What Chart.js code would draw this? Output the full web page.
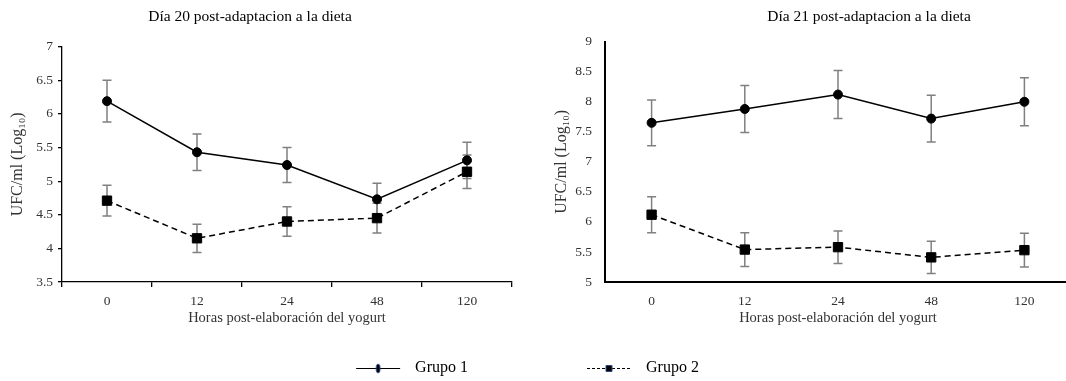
<!DOCTYPE html>
<html>
<head>
<meta charset="utf-8">
<script src="https://cdn.jsdelivr.net/npm/chart.js@4.4.1/dist/chart.umd.min.js"></script>
<style>
  html, body { margin: 0; padding: 0; background: #fff; width: 1066px; height: 381px; overflow: hidden; position: relative; }
  canvas { position: absolute; }
</style>
</head>
<body>
<canvas id="dia20" width="552" height="345" style="left:-12px;top:0"></canvas>
<canvas id="dia21" width="658" height="345" style="left:540px;top:0"></canvas>
<canvas id="leyenda" width="944" height="70" style="left:0;top:340px"></canvas>
<script>
// categories
const horas = ['0', '12', '24', '48', '120'];

// Día 20 (mean and +/- error)
const dia20Grupo1 = [6.19, 5.43, 5.24, 4.73, 5.31];
const dia20Grupo1Err = [0.31, 0.27, 0.26, 0.24, 0.27];
const dia20Grupo2 = [4.71, 4.15, 4.40, 4.45, 5.14];
const dia20Grupo2Err = [0.23, 0.21, 0.22, 0.22, 0.25];

// Día 21
const dia21Grupo1 = [7.65, 7.88, 8.12, 7.72, 8.00];
const dia21Grupo1Err = [0.38, 0.39, 0.40, 0.39, 0.40];
const dia21Grupo2 = [6.12, 5.54, 5.58, 5.41, 5.53];
const dia21Grupo2Err = [0.30, 0.28, 0.27, 0.27, 0.28];

const serif = '"Liberation Serif", "Times New Roman", serif';
Chart.defaults.font.family = serif;

// 7 instead of 7.0
const tickFmt = (v) => String(Number(v.toFixed(2)));

// vertical error bars with caps, drawn under the lines
const errorBars = {
  id: 'errorBars',
  beforeDatasetsDraw(chart) {
    const { ctx } = chart;
    const x = chart.scales.x, y = chart.scales.y;
    ctx.save();
    ctx.strokeStyle = '#808080';
    ctx.lineWidth = 1.5;
    chart.data.datasets.forEach(ds => {
      if (!ds.errors) return;
      ds.data.forEach((v, i) => {
        const px = x.getPixelForValue(i);
        const top = y.getPixelForValue(v + ds.errors[i]);
        const bot = y.getPixelForValue(v - ds.errors[i]);
        ctx.beginPath();
        ctx.moveTo(px, top); ctx.lineTo(px, bot);
        ctx.moveTo(px - 4.5, top); ctx.lineTo(px + 4.5, top);
        ctx.moveTo(px - 4.5, bot); ctx.lineTo(px + 4.5, bot);
        ctx.stroke();
      });
    });
    ctx.restore();
  }
};

function series(g1, g1e, g2, g2e) {
  return [
    {
      label: 'Grupo 1', data: g1, errors: g1e,
      borderColor: '#000', borderWidth: 1.5,
      pointStyle: 'circle', pointRadius: 4.5,
      pointBackgroundColor: '#000', pointBorderColor: '#000', pointBorderWidth: 1
    },
    {
      label: 'Grupo 2', data: g2, errors: g2e,
      borderColor: '#000', borderWidth: 1.5, borderDash: [6, 4],
      pointStyle: 'rect', pointRadius: 6.6,
      pointBackgroundColor: '#000', pointBorderColor: '#000', pointBorderWidth: 1
    }
  ];
}

// Día 20 chart
new Chart(document.getElementById('dia20'), {
  type: 'line',
  data: { labels: horas, datasets: series(dia20Grupo1, dia20Grupo1Err, dia20Grupo2, dia20Grupo2Err) },
  options: {
    responsive: false, animation: false, devicePixelRatio: 1,
    layout: { padding: { right: 28 } },
    plugins: {
      legend: { display: false },
      tooltip: { enabled: false },
      title: {
        display: true, text: 'Día 20 post-adaptacion a la dieta', color: '#000',
        font: { size: 15.5, weight: 'normal' }, padding: { top: 7.7, bottom: 20.4 }
      }
    },
    scales: {
      x: {
        offset: true,
        grid: { drawOnChartArea: false, offset: true, tickLength: 5, color: '#000', lineWidth: 1.3 },
        border: { color: '#000', width: 1.3 },
        ticks: { color: '#333', font: { size: 13.5 }, padding: 6 },
        title: { display: true, text: 'Horas post-elaboración del yogurt', color: '#333', font: { size: 14.5 }, padding: { top: 0, bottom: 17.8 } },
        afterFit(s) { s.height = 63; }
      },
      y: {
        min: 3.5, max: 7,
        grid: { drawOnChartArea: false, tickLength: 4, color: '#000', lineWidth: 1.3 },
        border: { color: '#000', width: 1.3 },
        ticks: { stepSize: 0.5, color: '#333', font: { size: 13.5 }, padding: 5, callback: tickFmt },
        title: { display: true, text: 'UFC/ml (Log₁₀)', color: '#333', font: { size: 16 }, padding: { top: 20.4, bottom: 0 } },
        afterFit(s) { s.width = 74; }
      }
    }
  },
  plugins: [errorBars]
});

// Día 21 chart
new Chart(document.getElementById('dia21'), {
  type: 'line',
  data: { labels: horas, datasets: series(dia21Grupo1, dia21Grupo1Err, dia21Grupo2, dia21Grupo2Err) },
  options: {
    responsive: false, animation: false, devicePixelRatio: 1,
    plugins: {
      legend: { display: false },
      tooltip: { enabled: false },
      title: {
        display: true, text: 'Día 21 post-adaptacion a la dieta', color: '#000',
        font: { size: 15.5, weight: 'normal' }, padding: { top: 7.7, bottom: 15.4 }
      }
    },
    scales: {
      x: {
        offset: true,
        grid: { display: false, drawTicks: false },
        border: { color: '#000', width: 2 },
        ticks: { color: '#333', font: { size: 13.5 }, padding: 11 },
        title: { display: true, text: 'Horas post-elaboración del yogurt', color: '#333', font: { size: 14.5 }, padding: { top: 0, bottom: 17.8 } },
        afterFit(s) { s.height = 63; }
      },
      y: {
        min: 5, max: 9,
        grid: { display: false, drawTicks: false },
        border: { color: '#000', width: 2 },
        ticks: { stepSize: 0.5, color: '#333', font: { size: 13.5 }, padding: 13, callback: tickFmt },
        title: { display: true, text: 'UFC/ml (Log₁₀)', color: '#333', font: { size: 16 }, padding: { top: 12.1, bottom: 0 } },
        afterFit(s) { s.width = 65; }
      },
      // empty space on the right, the plot runs past the picture edge
      espacio: {
        type: 'linear', position: 'right', display: true,
        grid: { display: false, drawTicks: false }, border: { display: false }, ticks: { display: false },
        afterFit(s) { s.width = 127; }
      }
    }
  },
  plugins: [errorBars]
});

// legend glyphs: line with marker
function glyph(dashed) {
  const c = document.createElement('canvas');
  c.width = 162; c.height = 16;
  const g = c.getContext('2d');
  const cx = 133, cy = 8;
  g.strokeStyle = '#000';
  g.lineWidth = 1;
  if (dashed) g.setLineDash([3, 2]);
  g.beginPath(); g.moveTo(cx - 22, cy + 0.5); g.lineTo(cx + 22, cy + 0.5); g.stroke();
  g.setLineDash([]);
  g.fillStyle = '#000';
  g.strokeStyle = '#2e4a8c';
  g.beginPath();
  if (dashed) g.rect(cx - 3, cy - 2.5, 6, 6);
  else g.ellipse(cx, cy + 0.5, 2, 4.5, 0, 0, Math.PI * 2);
  g.fill(); g.stroke();
  return c;
}

new Chart(document.getElementById('leyenda'), {
  type: 'line',
  data: { labels: [], datasets: [{ label: 'Grupo 1', data: [] }, { label: 'Grupo 2', data: [] }] },
  options: {
    responsive: false, animation: false, devicePixelRatio: 1,
    layout: { padding: { top: 12 } },
    scales: { x: { display: false }, y: { display: false } },
    plugins: {
      tooltip: { enabled: false },
      legend: {
        position: 'top',
        labels: {
          usePointStyle: true, pointStyleWidth: 162, padding: 8,
          color: '#000', font: { size: 16 },
          generateLabels: (chart) => chart.data.datasets.map((ds, i) => ({
            text: ds.label, datasetIndex: i, hidden: false, fontColor: '#000',
            fillStyle: '#000', strokeStyle: '#000', lineWidth: 0,
            pointStyle: glyph(i === 1)
          }))
        }
      }
    }
  }
});
</script>
</body>
</html>
